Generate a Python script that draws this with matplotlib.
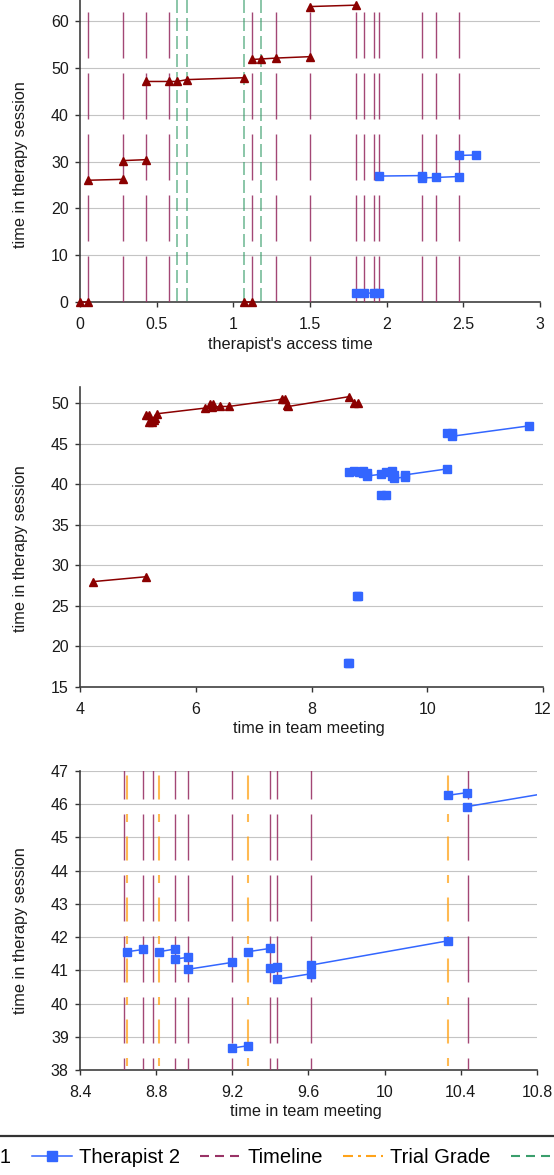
import numpy as np
import matplotlib
matplotlib.use('Agg')
import matplotlib.pyplot as plt
from matplotlib.lines import Line2D

nan = np.nan

# panel 1: therapist's access time
t1_access_x = [0, 0.05, nan, 0.05, 0.28, nan, 0.28, 0.43, nan, 0.43, 0.58, 0.63, 0.70, 1.07, nan,
               1.07, 1.12, nan, 1.12, 1.18, 1.28, 1.50, nan, 1.50, 1.80]
t1_access_y = [0, 0, nan, 26.0, 26.2, nan, 30.2, 30.4, nan, 47.1, 47.1, 47.1, 47.5, 47.9, nan,
               0, 0, nan, 51.8, 51.9, 52.1, 52.4, nan, 63.1, 63.4]
t2_access_x = [1.80, 1.85, 1.92, 1.95, nan, 1.95, 2.23, 2.23, 2.32, 2.47, nan, 2.47, 2.58]
t2_access_y = [1.9, 1.9, 1.9, 1.9, nan, 26.9, 27.0, 26.5, 26.6, 26.8, nan, 31.3, 31.4]
timeline_access = [0.05, 0.28, 0.43, 0.58, 1.12, 1.28, 1.50, 1.80, 1.85, 1.92, 1.95, 2.23, 2.32, 2.47]
green_access = [0.63, 0.70, 1.07, 1.18]

# panel 2 and 3: time in team meeting
t1_team_x = [4.23, 5.14, nan, 5.14, 5.20, nan, 5.20, 5.24, nan, 5.27, 5.30, nan, 5.33, 6.16, nan,
             6.25, 6.29, nan, 6.28, 6.42, 6.57, 7.49, nan, 7.55, 7.58, nan, 7.60, 8.64, nan, 8.73, 8.80]
t1_team_y = [28.0, 28.6, nan, 48.5, 48.5, nan, 47.7, 47.7, nan, 47.9, 48.2, nan, 48.7, 49.4, nan,
             49.9, 49.9, nan, 49.5, 49.6, 49.6, 50.5, nan, 50.5, 49.8, nan, 49.6, 50.8, nan, 50.0, 50.0]
t2_team_x = [8.63, 8.65, nan, 8.79, 8.81, nan, 8.649, 8.733, nan, 8.815, 8.897, nan, 8.897, 8.966, nan,
             8.966, 9.200, nan, 9.200, 9.281, nan, 9.281, 9.398, nan, 9.398, 9.434, nan,
             9.434, 9.615, nan, 9.615, 10.334, nan, 10.334, 10.434, nan, 10.434, 11.75]
t2_team_y = [17.9, 17.9, nan, 26.25, 26.25, nan, 41.56, 41.63, nan, 41.56, 41.64, nan, 41.34, 41.39, nan,
             41.03, 41.24, nan, 38.66, 38.73, nan, 41.56, 41.66, nan, 41.06, 41.11, nan,
             40.73, 40.90, nan, 41.16, 41.89, nan, 46.27, 46.35, nan, 45.93, 47.2]
timeline_team = [8.633, 8.733, 8.782, 8.897, 8.966, 9.200, 9.398, 9.434, 9.615, 10.437]
trial_grade_team = [8.649, 8.817, 9.284, 10.334]

W, H = 554, 1175
PX = 0.72  # points per pixel at dpi 100

plt.rcParams['font.family'] = ['Liberation Sans', 'DejaVu Sans']
plt.rcParams['lines.scale_dashes'] = False

c_t1 = '#8b0000'
c_t2 = '#3366ff'
c_tl = '#993366'
c_tg = '#ffa31a'
c_gr = '#3a9e6c'

fig = plt.figure(figsize=(W / 100, H / 100), dpi=100)


def make_axes(left, right, top, bottom):
    ax = fig.add_axes([left / W, 1 - bottom / H, (right - left) / W, (bottom - top) / H])
    for s in ['top', 'right']:
        ax.spines[s].set_visible(False)
    for s in ['left', 'bottom']:
        ax.spines[s].set_color('#404040')
        ax.spines[s].set_linewidth(1.2)
    ax.yaxis.grid(True, color='#c4c4c4', lw=0.8)
    ax.set_axisbelow(True)
    ax.tick_params(axis='both', direction='out', length=5 * PX, width=1, color='#333333',
                   labelsize=11.5, labelcolor='#1a1a1a')
    ax.tick_params(axis='x', pad=7)
    ax.tick_params(axis='y', pad=4.5)
    return ax


def t1_line(ax, x, y):
    ax.plot(x, y, color=c_t1, lw=1.1, marker='^', ms=6, zorder=5, clip_on=False)


def t2_line(ax, x, y):
    ax.plot(x, y, color=c_t2, lw=1.1, marker='s', ms=5.2, zorder=5)


# ---- top panel
ax1 = make_axes(80, 540, 0, 302)
ax1.set_xlim(0, 3)
ax1.set_ylim(0, 64.5)
ax1.set_yticks(range(0, 61, 10))
ax1.set_xticks([0, 0.5, 1, 1.5, 2, 2.5, 3])
ax1.set_xticklabels(['0', '0.5', '1', '1.5', '2', '2.5', '3'])
ax1.vlines(timeline_access, 0, 62.7, colors=c_tl, lw=1.0, alpha=0.9,
           linestyles=[(0, (46 * PX, 15 * PX))], zorder=3)
ax1.vlines(green_access, 64.5, 0, colors=c_gr, lw=1.1, alpha=0.75,
           linestyles=[(0, (13 * PX, 5 * PX))], zorder=3)
t1_line(ax1, t1_access_x, t1_access_y)
t2_line(ax1, t2_access_x, t2_access_y)
ax1.set_xlabel("therapist's access time", fontsize=11.7, color='#1a1a1a')
ax1.xaxis.set_label_coords(0.4565, -0.115)
ax1.set_ylabel('time in therapy session', fontsize=11.7, color='#1a1a1a')
ax1.yaxis.set_label_coords(-52 / 460, 0.455)

# ---- middle panel
ax2 = make_axes(80, 543, 387, 687)
ax2.set_xlim(4, 12)
ax2.set_ylim(15, 52)
ax2.set_yticks(range(15, 51, 5))
ax2.set_xticks([4, 6, 8, 10, 12])
t1_line(ax2, t1_team_x, t1_team_y)
t2_line(ax2, t2_team_x, t2_team_y)
ax2.set_xlabel('time in team meeting', fontsize=11.7, color='#1a1a1a')
ax2.xaxis.set_label_coords(0.4935, -0.115)
ax2.set_ylabel('time in therapy session', fontsize=11.7, color='#1a1a1a')
ax2.yaxis.set_label_coords(-52 / 463, 0.462)

# ---- bottom panel
ax3 = make_axes(80, 537, 771, 1070)
ax3.set_xlim(8.4, 10.8)
ax3.set_ylim(38, 47)
ax3.set_yticks(range(38, 48))
ax3.set_xticks([8.4, 8.8, 9.2, 9.6, 10, 10.4, 10.8])
ax3.set_xticklabels(['8.4', '8.8', '9.2', '9.6', '10', '10.4', '10.8'])
ax3.vlines(timeline_team, 38, 47.05, colors=c_tl, lw=1.0, alpha=0.9,
           linestyles=[(34 * PX, (46 * PX, 15 * PX))], zorder=3)
ax3.vlines(trial_grade_team, 38, 47, colors=c_tg, lw=1.5, alpha=0.75,
           linestyles=[(57 * PX, (8 * PX, 14.5 * PX, 24 * PX, 14.5 * PX))], zorder=3)
t2_line(ax3, t2_team_x, t2_team_y)
ax3.set_xlabel('time in team meeting', fontsize=11.7, color='#1a1a1a')
ax3.xaxis.set_label_coords(0.4945, -0.115)
ax3.set_ylabel('time in therapy session', fontsize=11.7, color='#1a1a1a')
ax3.yaxis.set_label_coords(-52 / 457, 0.465)

# ---- legend (wider than the figure, cut at both sides and the bottom)
handles = [
    Line2D([], [], color=c_t1, lw=1.1, marker='^', ms=7),
    Line2D([], [], color=c_t2, lw=1.1, marker='s', ms=7),
    Line2D([], [], color=c_tl, lw=1.5, linestyle=(0, (9 * PX, 6 * PX))),
    Line2D([], [], color=c_tg, lw=1.5, linestyle=(0, (10 * PX, 5 * PX, 3 * PX, 5 * PX))),
    Line2D([], [], color=c_gr, lw=1.5, linestyle=(0, (9 * PX, 6 * PX))),
]
labels = ['Therapist 1', 'Therapist 2', 'Timeline', 'Trial Grade', 'Therapist Grade']
leg = fig.legend(handles, labels, loc='upper left', bbox_to_anchor=(-149 / W, 1 - 1136 / H),
                 ncol=5, fontsize=14.5, frameon=True, fancybox=False, borderaxespad=0,
                 handlelength=2.0, handletextpad=0.35, columnspacing=1.0, borderpad=0.6,
                 numpoints=1)
leg.get_frame().set_edgecolor('black')
leg.get_frame().set_linewidth(1.6)

fig.savefig('out.png', dpi=100)
